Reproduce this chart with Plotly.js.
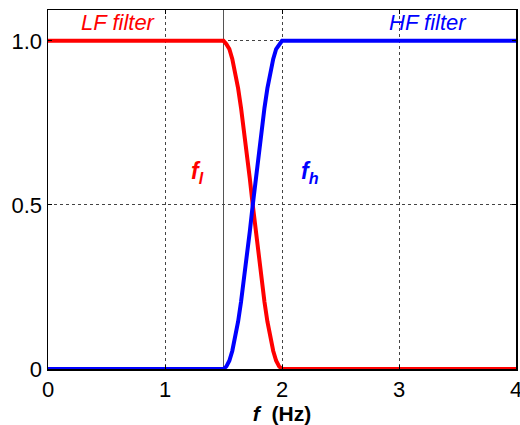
<!DOCTYPE html>
<html>
<head>
<meta charset="utf-8">
<script src="https://cdn.plot.ly/plotly-3.0.1.min.js"></script>
<style>html,body{margin:0;padding:0;background:#fff;overflow:hidden;}#chart{width:520px;height:425px;}</style>
</head>
<body>
<div id="chart"></div>
<script>
// Frequency samples (Hz)
const freq = [0, 1.5, 1.525, 1.55, 1.575, 1.6, 1.625, 1.65, 1.675, 1.7, 1.725, 1.75, 1.775, 1.8, 1.825, 1.85, 1.875, 1.9, 1.925, 1.95, 1.975, 2.0, 4];
// LF filter response
const lfResponse = [1, 1, 0.99, 0.975, 0.945, 0.905, 0.855, 0.795, 0.73, 0.655, 0.58, 0.5, 0.42, 0.345, 0.27, 0.205, 0.145, 0.095, 0.055, 0.025, 0.008, 0, 0];
// HF filter response
const hfResponse = [0, 0, 0.008, 0.025, 0.055, 0.095, 0.145, 0.205, 0.27, 0.345, 0.42, 0.5, 0.58, 0.655, 0.73, 0.795, 0.855, 0.905, 0.945, 0.975, 0.99, 1, 1];
const cutoffs = [1.5];
const xTicks = [0, 1, 2, 3, 4];
const xTickText = ['0', '1', '2', '3', '4'];
const yTicks = [0, 0.5, 1.0];
const yTickText = ['0', '0.5', '1.0'];

const FONT = 'Liberation Sans, Arial, sans-serif';

const traces = [
  {x: freq, y: lfResponse, mode: 'lines', line: {color: '#ff0000', width: 4}, hoverinfo: 'skip'},
  {x: freq, y: hfResponse, mode: 'lines', line: {color: '#0000ff', width: 4}, hoverinfo: 'skip'}
];

const shapes = cutoffs.map(c => ({
  type: 'line', xref: 'x', yref: 'paper', x0: c, x1: c, y0: 0, y1: 1,
  line: {color: '#555', width: 1}, layer: 'below'
}));

const layout = {
  width: 520, height: 425,
  margin: {l: 48, r: 4, t: 10, b: 56},
  paper_bgcolor: '#fff', plot_bgcolor: '#fff',
  showlegend: false,
  font: {family: FONT, size: 22, color: '#000'},
  xaxis: {
    range: [0, 4], tickvals: xTicks, ticktext: xTickText,
    showgrid: true, gridcolor: '#444', griddash: 'dot', gridwidth: 1,
    zeroline: false, showline: true, linecolor: '#000', linewidth: 1.5, mirror: 'ticks',
    ticks: 'inside', ticklen: 4, tickcolor: '#000',
    ticklabeloverflow: 'allow',
    tickfont: {size: 22, family: FONT},
    title: {text: '<b><i>f</i>&nbsp; (Hz)</b>', font: {size: 21, family: FONT}, standoff: 0}
  },
  yaxis: {
    range: [0, 1.094], tickvals: yTicks, ticktext: yTickText,
    showgrid: true, gridcolor: '#444', griddash: 'dot', gridwidth: 1,
    zeroline: false, showline: true, linecolor: '#000', linewidth: 1.5, mirror: 'ticks',
    ticks: 'inside', ticklen: 4, tickcolor: '#000',
    ticklabeloverflow: 'allow',
    tickfont: {size: 22, family: FONT}
  },
  shapes: shapes,
  annotations: [
    {x: 0.94, y: 1.055, xref: 'x', yref: 'y', text: '<i>LF filter</i>', showarrow: false, xanchor: 'right', font: {color: '#ff0000', size: 22, family: FONT}},
    {x: 3.25, y: 1.055, xref: 'x', yref: 'y', text: '<i>HF filter</i>', showarrow: false, xanchor: 'center', font: {color: '#0000ff', size: 22, family: FONT}},
    {x: 1.28, y: 0.6, xref: 'x', yref: 'y', text: '<b><i>f<sub>l</sub></i></b>', showarrow: false, font: {color: '#ff0000', size: 23, family: FONT}},
    {x: 2.24, y: 0.6, xref: 'x', yref: 'y', text: '<b><i>f<sub>h</sub></i></b>', showarrow: false, font: {color: '#0000ff', size: 23, family: FONT}}
  ]
};

Plotly.newPlot('chart', traces, layout, {displayModeBar: false, staticPlot: true});
</script>
</body>
</html>
